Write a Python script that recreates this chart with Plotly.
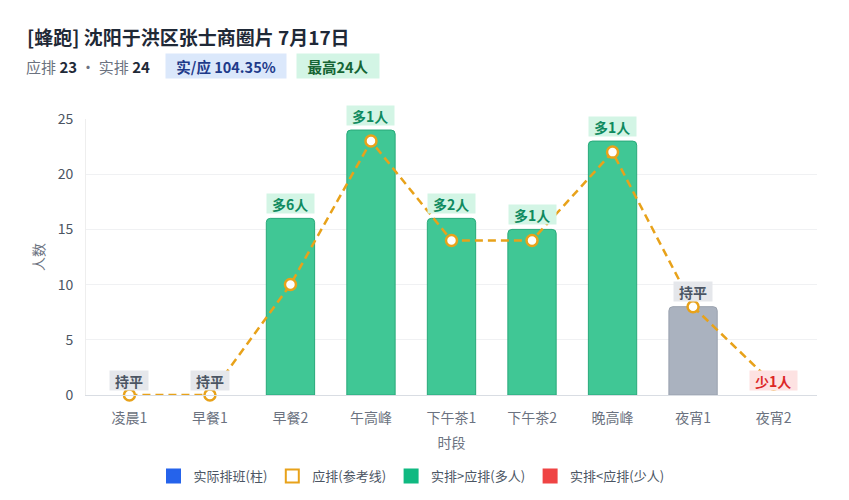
import plotly.graph_objects as go

categories = ["凌晨1", "早餐1", "早餐2", "午高峰", "下午茶1", "下午茶2", "晚高峰", "夜宵1", "夜宵2"]
actual = [0, 0, 16, 24, 16, 15, 23, 8, 0]
planned = [0, 0, 10, 23, 14, 14, 22, 8, 1]

title_text = "[蜂跑] 沈阳于洪区张士商圈片 7月17日"
plan_total = 23
actual_total = 24
ratio_text = "实/应 104.35%"
max_text = "最高24人"

GREEN = "#40c795"
GREEN_LINE = "#28a97a"
GRAY = "#aab2bf"
GRAY_LINE = "#9aa2ae"
ORANGE = "#e8a21a"
FONT = "Noto Sans CJK SC"

bar_colors, bar_lines, bar_lw, labels = [], [], [], []
for a, p in zip(actual, planned):
    d = a - p
    if d > 0:
        bar_colors.append(GREEN); bar_lines.append(GREEN_LINE)
        labels.append((f"多{d}人", "#0f8a5f", "#d3f5e5"))
    elif d < 0:
        bar_colors.append("#ef4444"); bar_lines.append("#dc2626")
        labels.append((f"少{-d}人", "#dc2626", "#fde2e2"))
    else:
        bar_colors.append(GRAY); bar_lines.append(GRAY_LINE)
        labels.append(("持平", "#4b5563", "#e5e7eb"))
    bar_lw.append(1 if a > 0 else 0)

fig = go.Figure()
fig.add_trace(go.Bar(
    x=categories, y=actual, width=0.6,
    marker=dict(color=bar_colors, line=dict(color=bar_lines, width=bar_lw)),
    showlegend=False, hoverinfo="skip",
))
fig.add_trace(go.Scatter(
    x=categories, y=planned, mode="lines+markers", cliponaxis=False,
    line=dict(color=ORANGE, width=2.5, dash="8px,5px"),
    marker=dict(symbol="circle", size=11, color="white", line=dict(color=ORANGE, width=2.5)),
    showlegend=False, hoverinfo="skip",
))

# legend-only traces
legend_items = [
    ("实际排班(柱)", "square", "#2563eb", "#2563eb"),
    ("应排(参考线)", "square-open", ORANGE, ORANGE),
    ("实排>应排(多人)", "square", "#10b981", "#10b981"),
    ("实排<应排(少人)", "square", "#ef4444", "#ef4444"),
]
for name, sym, col, lc in legend_items:
    fig.add_trace(go.Scatter(
        x=[None], y=[None], mode="markers", name=name,
        marker=dict(symbol=sym, size=13, color=col, line=dict(color=lc, width=2)),
    ))


def label_width(txt):
    w = 0
    for ch in txt:
        w += 8.5 if ch.isascii() else 14
    return w + 10


annotations = []
for c, a, (txt, fc, bg) in zip(categories, actual, labels):
    annotations.append(dict(
        x=c, y=a, xref="x", yref="y", text=f"<b>{txt}</b>", showarrow=False,
        yanchor="middle", yshift=15, bgcolor=bg, borderpad=0,
        width=label_width(txt), height=19,
        font=dict(family=FONT, size=14, color=fc),
    ))

def px_x(px):
    return (px - 86) / 731

def px_y(py):
    return (395 - py) / 276

annotations.append(dict(
    xref="paper", yref="paper", x=px_x(24), y=px_y(66), xanchor="left", yanchor="middle",
    showarrow=False,
    text=(f"<span style='color:#6b7280'>应排</span> <b>{plan_total}</b>"
          f"<span style='color:#6b7280'> · 实排</span> <b>{actual_total}</b>"),
    font=dict(family=FONT, size=15, color="#1f2937"),
))
annotations.append(dict(
    xref="paper", yref="paper", x=px_x(226), y=px_y(66), xanchor="center", yanchor="middle",
    showarrow=False, text=f"<b>{ratio_text}</b>", bgcolor="#dbe8fb", width=118, height=22,
    font=dict(family=FONT, size=14.5, color="#1e3a8a"),
))
annotations.append(dict(
    xref="paper", yref="paper", x=px_x(338), y=px_y(66), xanchor="center", yanchor="middle",
    showarrow=False, text=f"<b>{max_text}</b>", bgcolor="#d3f5e5", width=80, height=22,
    font=dict(family=FONT, size=14.5, color="#166534"),
))

# page body has an 8px margin; figure is sized so the plot sits where the reference has it
fig.update_layout(
    width=841, height=492,
    margin=dict(l=78, r=32, t=111, b=105, autoexpand=False),
    paper_bgcolor="white", plot_bgcolor="white",
    font=dict(family=FONT, color="#4b5563"),
    title=dict(text=f"<b>{title_text}</b>", xref="container", yref="container",
               x=(27 - 8) / 841, y=1 - (38 - 8) / 492, xanchor="left", yanchor="middle",
               font=dict(family=FONT, size=19, color="#1f2937")),
    barcornerradius=4,
    annotations=annotations,
    legend=dict(orientation="h", x=0.5 - 40 / 731, xanchor="center", y=px_y(476), yanchor="middle",
                font=dict(family=FONT, size=13, color="#4b5563"), itemwidth=30),
    xaxis=dict(
        title=dict(text="时段", font=dict(family=FONT, size=14, color="#6b7280"), standoff=12),
        tickfont=dict(family=FONT, size=14, color="#6b7280"),
        showline=True, linecolor="#d9dde3", linewidth=1, showgrid=False, ticks="",
        ticklabelstandoff=10,
    ),
    yaxis=dict(
        title=dict(text="人数", font=dict(family=FONT, size=14, color="#6b7280"), standoff=9),
        range=[0, 25], dtick=5, tickfont=dict(family=FONT, size=14, color="#4b5563"),
        showgrid=True, gridcolor="#f0f1f3", zeroline=False,
        showline=True, linecolor="#eeeeee", ticks="", ticklabelstandoff=9,
    ),
)

fig.write_html("out.html")
